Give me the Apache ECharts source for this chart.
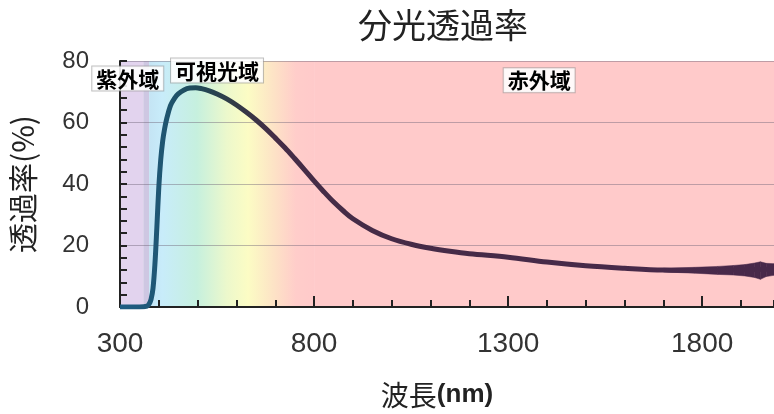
<!DOCTYPE html>
<html>
<head>
<meta charset="utf-8">
<script src="https://cdn.jsdelivr.net/npm/echarts@6/dist/echarts.min.js"></script>
<style>
html,body{margin:0;padding:0;background:#fff;}
#c{width:774px;height:414px;}
</style>
</head>
<body>
<div id="c"></div>
<script>
// ---- data ----
const wavelengths = [300, 350, 370, 375, 380, 385, 390, 395, 400, 405, 410, 415, 420, 430, 440, 450, 465, 480, 495, 510, 530, 550, 575, 600, 625, 650, 675, 700, 725, 750, 775, 800, 825, 850, 875, 900, 950, 1000, 1050, 1100, 1150, 1200, 1300, 1400, 1500, 1600, 1700, 1800, 1900, 1985];
const transmittance = [0, 0, 0.3, 1, 2.5, 6, 14, 26, 39, 48, 54, 58, 61, 65.5, 67.8, 69.3, 70.6, 71.2, 71.3, 71, 70.3, 69.3, 67.7, 65.7, 63.4, 60.9, 58.1, 55.0, 51.8, 48.3, 44.7, 41.0, 37.5, 34.2, 31.3, 28.7, 24.9, 22.2, 20.4, 19.1, 18.1, 17.3, 16.2, 14.6, 13.4, 12.6, 12.0, 11.9, 12.1, 12.3];
// noisy tail envelope
const noiseWl = [1700, 1780, 1840, 1880, 1910, 1935, 1950, 1965, 1985];
const noiseLow = [11.4, 11.0, 10.6, 10.4, 10.1, 9.6, 9.0, 9.9, 10.3];
const noiseHigh = [12.6, 12.9, 13.2, 13.5, 13.8, 14.3, 14.7, 14.2, 14.1];
// axis ticks
const xMin = 300, xMax = 1985;
const xTickLabels = [300, 800, 1300, 1800];
const yTickLabels = [0, 20, 40, 60, 80];
// spectral regions (nm boundaries)
const uvStart = 300, uvEdge = 360, visStart = 375, irStart = 800;
const regionNames = ['紫外域', '可視光域', '赤外域'];
const regionLabelX = [320, 550, 1380];
const regionLabelY = [74.3, 76.9, 73.7];

// ---- chart ----
const chart = echarts.init(document.getElementById('c'));
const G = echarts.graphic.LinearGradient;

const lineData = wavelengths.map((w, i) => [w, transmittance[i]]);
const bandData = noiseWl.map((w, i) => [w, noiseLow[i], noiseHigh[i]]);

const visGradient = new G(0, 0, 1, 0, [
  {offset: 0, color: '#c4e4f4'},
  {offset: 0.08, color: '#c8ecfa'},
  {offset: 0.29, color: '#c6f0de'},
  {offset: 0.47, color: '#ecf8cc'},
  {offset: 0.60, color: '#fcfcc4'},
  {offset: 0.76, color: '#fde2c6'},
  {offset: 0.89, color: '#ffcdca'},
  {offset: 1, color: '#ffcaca'}
]);
const lineGradient = new G(0, 0, 1, 0, [
  {offset: 0, color: '#1f5d85'},
  {offset: 0.07, color: '#1f5672'},
  {offset: 0.12, color: '#204a58'},
  {offset: 0.18, color: '#333a46'},
  {offset: 0.24, color: '#452c46'},
  {offset: 1, color: '#48294a'}
]);

const labelStyle = {
  show: true,
  position: 'inside',
  fontFamily: 'Noto Sans CJK JP',
  fontSize: 21,
  fontWeight: 'bold',
  color: '#000',
  backgroundColor: 'rgba(255,255,255,0.88)',
  borderColor: 'rgba(150,150,150,0.6)',
  borderWidth: 1,
  padding: [2, 4, 1, 4]
};

const tickStyle = {color: '#222', width: 2};

const option = {
  animation: false,
  backgroundColor: '#fff',
  title: {
    text: '分光透過率',
    left: 358,
    top: 8,
    padding: 0,
    textStyle: {fontFamily: 'Noto Sans CJK JP', fontSize: 34, fontWeight: 'normal', color: '#222'}
  },
  grid: {left: 114, right: 0, top: 61, bottom: 86, containLabel: false},
  xAxis: [{
    type: 'value',
    z: 3,
    min: xMin, max: xMax, interval: 100,
    name: '{a|波長}{b|(nm)}',
    nameLocation: 'middle',
    nameGap: 74,
    nameTextStyle: {
      padding: [0, 20, 0, 0],
      rich: {
        a: {fontFamily: 'Noto Sans CJK JP', fontSize: 28, color: '#222'},
        b: {fontFamily: 'Liberation Sans', fontSize: 26, fontWeight: 'bold', color: '#222'}
      }
    },
    axisLine: {show: true, onZero: false, lineStyle: tickStyle},
    axisTick: {show: true, inside: true, length: 7, lineStyle: tickStyle},
    axisLabel: {show: false},
    splitLine: {show: false}
  }, {
    type: 'value',
    z: 3,
    min: xMin, max: xMax,
    position: 'bottom',
    axisLine: {show: false},
    axisTick: {show: true, inside: true, length: 11, customValues: xTickLabels, lineStyle: tickStyle},
    axisLabel: {
      show: true, customValues: xTickLabels, margin: 23,
      fontFamily: 'Liberation Sans', fontSize: 28, color: '#333',
      formatter: v => String(v)
    },
    splitLine: {show: false}
  }],
  yAxis: {
    type: 'value',
    z: 3,
    min: 0, max: 80, interval: 20,
    name: '透過率(%)',
    nameLocation: 'middle',
    nameGap: 82,
    nameRotate: 90,
    nameTextStyle: {fontFamily: 'Noto Sans CJK JP', fontSize: 30, color: '#222'},
    axisLine: {show: true, lineStyle: tickStyle},
    axisTick: {show: true, inside: true, length: 7, lineStyle: tickStyle},
    minorTick: {show: true, splitNumber: 5, length: 7, lineStyle: tickStyle},
    axisLabel: {
      margin: 31, fontFamily: 'Liberation Sans', fontSize: 24, color: '#333',
      formatter: v => yTickLabels.includes(v) ? String(v) : ''
    },
    splitLine: {show: true, lineStyle: {color: 'rgba(110,100,120,0.45)', width: 1}}
  },
  series: [{
    type: 'line',
    name: 'T',
    xAxisIndex: 0,
    data: lineData,
    showSymbol: false,
    smooth: 0.35,
    z: 5,
    lineStyle: {width: 5, color: lineGradient},
    markArea: {
      silent: true,
      z: 1,
      data: [
        [{xAxis: uvStart, itemStyle: {color: '#e2d3ee', opacity: 1}}, {xAxis: uvEdge}],
        [{xAxis: uvEdge, itemStyle: {color: '#cec7e2', opacity: 1}}, {xAxis: visStart}],
        [{xAxis: visStart, itemStyle: {color: visGradient, opacity: 1}}, {xAxis: irStart}],
        [{xAxis: irStart, itemStyle: {color: '#ffcaca', opacity: 1}}, {xAxis: xMax}]
      ]
    },
    markPoint: {
      symbol: 'rect',
      symbolSize: 0,
      silent: true,
      z: 10,
      label: labelStyle,
      data: regionNames.map((n, i) => ({coord: [regionLabelX[i], regionLabelY[i]], value: n, label: {formatter: n}}))
    }
  }, {
    type: 'custom',
    name: 'noise',
    xAxisIndex: 0,
    data: bandData,
    z: 4,
    silent: true,
    renderItem: (params, api) => {
      const i = params.dataIndex;
      if (i >= bandData.length - 1) return null;
      const a = bandData[i], b = bandData[i + 1];
      const pts = [
        api.coord([a[0], a[2]]), api.coord([b[0], b[2]]),
        api.coord([b[0], b[1]]), api.coord([a[0], a[1]])
      ];
      return {type: 'polygon', shape: {points: pts}, style: {fill: '#48294a', stroke: '#48294a', lineWidth: 0.5}};
    }
  }]
};
chart.setOption(option);
</script>
</body>
</html>
